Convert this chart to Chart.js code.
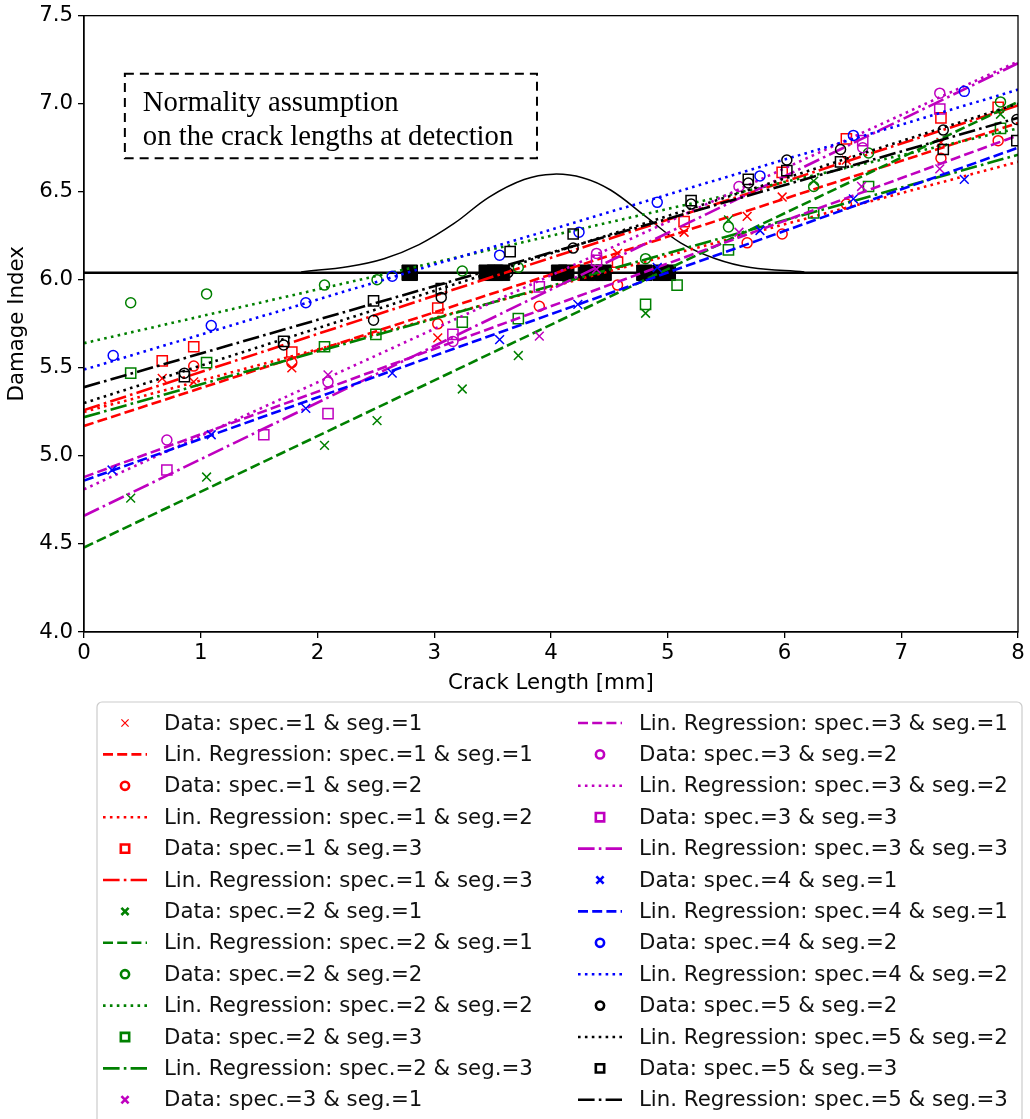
<!DOCTYPE html>
<html lang="en">
<head>
<meta charset="UTF-8">
<title>Damage Index vs Crack Length</title>
<script src="https://cdn.jsdelivr.net/npm/chart.js"></script>
<style>
  body { margin: 0; background: #fff; }
  canvas { display: block; }
</style>
</head>
<body>
<canvas id="chart" width="1030" height="1119"></canvas>
<script>
// crack length [mm] / damage index per specimen & segment
const s1g1X = [0.67, 0.94, 1.78, 3.03, 4.57, 5.14, 5.68, 5.98, 6.53, 7.34];
const s1g1Y = [5.44, 5.42, 5.50, 5.67, 6.15, 6.27, 6.36, 6.47, 6.68, 6.78];
const s1g2X = [0.94, 1.78, 3.03, 3.90, 4.57, 5.68, 5.98, 6.53, 7.34, 7.83];
const s1g2Y = [5.51, 5.53, 5.75, 5.85, 5.97, 6.21, 6.26, 6.43, 6.69, 6.79];
const s1g3X = [0.67, 0.94, 1.78, 3.03, 4.57, 5.14, 5.98, 6.53, 7.34, 7.83];
const s1g3Y = [5.54, 5.62, 5.59, 5.84, 6.10, 6.33, 6.61, 6.80, 6.92, 6.98];

const s2g1X = [0.40, 1.05, 2.06, 2.51, 3.24, 3.72, 4.81, 5.52, 6.25, 7.85];
const s2g1Y = [4.76, 4.88, 5.06, 5.20, 5.38, 5.57, 5.81, 6.34, 6.56, 6.94];
const s2g2X = [0.40, 1.05, 2.06, 2.51, 3.24, 3.72, 4.81, 5.52, 6.25, 6.72, 7.85];
const s2g2Y = [5.87, 5.92, 5.97, 6.00, 6.05, 6.07, 6.12, 6.30, 6.53, 6.72, 7.01];
const s2g3X = [0.40, 1.05, 2.06, 2.50, 3.24, 3.72, 4.81, 5.08, 5.52, 6.25, 6.72, 7.85];
const s2g3Y = [5.47, 5.53, 5.62, 5.69, 5.76, 5.78, 5.86, 5.97, 6.17, 6.38, 6.53, 6.86];

const s3g1X = [2.09, 3.90, 4.39, 5.61, 6.66, 7.33];
const s3g1Y = [5.46, 5.68, 6.06, 6.27, 6.53, 6.63];
const s3g2X = [0.71, 2.09, 3.16, 4.39, 5.61, 6.67, 7.33];
const s3g2Y = [5.09, 5.42, 5.65, 6.15, 6.53, 6.75, 7.06];
const s3g3X = [0.71, 1.54, 2.09, 3.16, 3.90, 4.39, 6.67, 7.33];
const s3g3Y = [4.92, 5.12, 5.24, 5.69, 5.96, 6.11, 6.79, 6.97];

const s4g1X = [0.24, 1.09, 1.90, 2.64, 3.56, 4.23, 4.91, 5.79, 6.59, 7.54];
const s4g1Y = [4.92, 5.12, 5.27, 5.47, 5.66, 5.86, 6.07, 6.28, 6.46, 6.57];
const s4g2X = [0.25, 1.09, 1.90, 2.64, 3.56, 4.24, 4.91, 5.79, 6.59, 7.54];
const s4g2Y = [5.57, 5.74, 5.87, 6.02, 6.14, 6.27, 6.44, 6.59, 6.82, 7.07];

const s5g2X = [0.86, 1.71, 2.48, 3.06, 3.63, 4.19, 5.20, 5.69, 6.02, 6.48, 7.36, 7.99];
const s5g2Y = [5.47, 5.63, 5.77, 5.90, 6.04, 6.18, 6.43, 6.55, 6.68, 6.74, 6.85, 6.91];
const s5g3X = [0.86, 1.71, 2.48, 3.06, 3.65, 4.19, 5.20, 5.69, 6.02, 6.48, 7.36, 7.99];
const s5g3Y = [5.45, 5.65, 5.88, 5.95, 6.16, 6.26, 6.45, 6.57, 6.62, 6.67, 6.74, 6.79];

// regression lines, values at crack length 0 and 8
const regX = [0, 8];
const s1g1Fit = [5.17, 6.89];
const s1g2Fit = [5.25, 6.67];
const s1g3Fit = [5.26, 6.99];
const s2g1Fit = [4.48, 7.01];
const s2g2Fit = [5.64, 6.86];
const s2g3Fit = [5.22, 6.71];
const s3g1Fit = [4.88, 6.82];
const s3g2Fit = [4.81, 7.24];
const s3g3Fit = [4.66, 7.23];
const s4g1Fit = [4.86, 6.75];
const s4g2Fit = [5.49, 7.08];
const s5g2Fit = [5.30, 7.00];
const s5g3Fit = [5.39, 6.92];

// detection threshold and crack lengths at detection
const detectLevel = 6.04;
const detectX = [2.79, 3.45, 3.52, 3.58, 4.07, 4.13, 4.30, 4.38, 4.45, 4.80, 4.94, 5.00];

// normal density sketch on top of the threshold line
const pdfX = [1.86, 2.27, 2.57, 2.87, 3.17, 3.47, 3.77, 4.02, 4.27, 4.51, 4.81, 5.11, 5.41, 5.71, 6.17];
const pdfY = [6.045, 6.076, 6.12, 6.20, 6.32, 6.47, 6.57, 6.60, 6.58, 6.51, 6.36, 6.21, 6.12, 6.07, 6.045];

const RED = '#ff0000', GREEN = '#008000', MAGENTA = '#bf00bf', BLUE = '#0000ff', BLACK = '#000000';
const LW = 2.6;
const DASHED = [10, 4.2];
const DOTTED = [2.6, 4.3];
const DASHDOT = [16.6, 4.2, 2.6, 4.2];
const FONT_SIZE = 21.3;

function points(xs, ys) {
  return xs.map((x, i) => ({ x: x, y: ys[i] }));
}

function markerRadius(style) {
  if (style === 'rect') return 7.2;
  if (style === 'crossRot') return 6.2;
  return 5;
}

function dataSet(spec, seg, color, style, xs, ys) {
  return {
    label: 'Data: spec.=' + spec + ' & seg.=' + seg,
    data: points(xs, ys),
    showLine: false,
    pointStyle: style,
    pointRadius: markerRadius(style),
    pointHoverRadius: markerRadius(style),
    pointBorderWidth: 1.5,
    borderColor: color,
    pointBorderColor: color,
    pointBackgroundColor: 'rgba(0,0,0,0)',
    backgroundColor: 'rgba(0,0,0,0)',
    isMarker: true
  };
}

function fitSet(spec, seg, color, dash, ends) {
  return {
    label: 'Lin. Regression: spec.=' + spec + ' & seg.=' + seg,
    data: points(regX, ends),
    showLine: true,
    borderColor: color,
    borderWidth: LW,
    borderDash: dash,
    pointRadius: 0,
    pointHoverRadius: 0,
    fill: false,
    isMarker: false
  };
}

const series = [
  dataSet(1, 1, RED, 'crossRot', s1g1X, s1g1Y),
  fitSet(1, 1, RED, DASHED, s1g1Fit),
  dataSet(1, 2, RED, 'circle', s1g2X, s1g2Y),
  fitSet(1, 2, RED, DOTTED, s1g2Fit),
  dataSet(1, 3, RED, 'rect', s1g3X, s1g3Y),
  fitSet(1, 3, RED, DASHDOT, s1g3Fit),
  dataSet(2, 1, GREEN, 'crossRot', s2g1X, s2g1Y),
  fitSet(2, 1, GREEN, DASHED, s2g1Fit),
  dataSet(2, 2, GREEN, 'circle', s2g2X, s2g2Y),
  fitSet(2, 2, GREEN, DOTTED, s2g2Fit),
  dataSet(2, 3, GREEN, 'rect', s2g3X, s2g3Y),
  fitSet(2, 3, GREEN, DASHDOT, s2g3Fit),
  dataSet(3, 1, MAGENTA, 'crossRot', s3g1X, s3g1Y),
  fitSet(3, 1, MAGENTA, DASHED, s3g1Fit),
  dataSet(3, 2, MAGENTA, 'circle', s3g2X, s3g2Y),
  fitSet(3, 2, MAGENTA, DOTTED, s3g2Fit),
  dataSet(3, 3, MAGENTA, 'rect', s3g3X, s3g3Y),
  fitSet(3, 3, MAGENTA, DASHDOT, s3g3Fit),
  dataSet(4, 1, BLUE, 'crossRot', s4g1X, s4g1Y),
  fitSet(4, 1, BLUE, DASHED, s4g1Fit),
  dataSet(4, 2, BLUE, 'circle', s4g2X, s4g2Y),
  fitSet(4, 2, BLUE, DOTTED, s4g2Fit),
  dataSet(5, 2, BLACK, 'circle', s5g2X, s5g2Y),
  fitSet(5, 2, BLACK, DOTTED, s5g2Fit),
  dataSet(5, 3, BLACK, 'rect', s5g3X, s5g3Y),
  fitSet(5, 3, BLACK, DASHDOT, s5g3Fit)
];

const helpers = [
  {
    label: 'threshold',
    data: points(regX, regX.map(() => detectLevel)),
    showLine: true, borderColor: BLACK, borderWidth: 2.5,
    pointRadius: 0, pointHoverRadius: 0
  },
  {
    label: 'pdf',
    data: points(pdfX, pdfY),
    showLine: true, borderColor: BLACK, borderWidth: 1.5,
    tension: 0.4,
    pointRadius: 0, pointHoverRadius: 0
  },
  {
    label: 'detections',
    data: points(detectX, detectX.map(() => detectLevel)),
    showLine: false, pointStyle: 'rect',
    pointRadius: 11, pointHoverRadius: 11,
    pointBackgroundColor: BLACK, pointBorderColor: BLACK, pointBorderWidth: 1
  }
];

const datasets = helpers.concat(series).map((d, i) => Object.assign(d, { order: -i }));

const tickFont = { family: 'DejaVu Sans', size: FONT_SIZE, lineHeight: 1 };
const titleFont = { family: 'DejaVu Sans', size: FONT_SIZE };

// text box in data coordinates
const noteBox = { x0: 0.35, x1: 3.88, y0: 6.69, y1: 7.17 };
const noteLines = ['Normality assumption', 'on the crack lengths at detection'];

const framePlugin = {
  id: 'frame',
  afterDatasetsDraw(chart) {
    const { ctx, chartArea: a, scales: { x, y } } = chart;
    ctx.save();
    ctx.strokeStyle = BLACK;
    ctx.lineWidth = 1.3;
    ctx.setLineDash([]);
    ctx.strokeRect(a.left, a.top, a.right - a.left, a.bottom - a.top);

    const bx0 = x.getPixelForValue(noteBox.x0), bx1 = x.getPixelForValue(noteBox.x1);
    const by0 = y.getPixelForValue(noteBox.y1), by1 = y.getPixelForValue(noteBox.y0);
    ctx.fillStyle = '#fff';
    ctx.fillRect(bx0, by0, bx1 - bx0, by1 - by0);
    ctx.lineWidth = 2;
    ctx.setLineDash([9, 6]);
    ctx.strokeRect(bx0, by0, bx1 - bx0, by1 - by0);
    ctx.setLineDash([]);
    ctx.fillStyle = BLACK;
    ctx.font = '28.7px "Liberation Serif"';
    ctx.textBaseline = 'alphabetic';
    ctx.textAlign = 'left';
    noteLines.forEach((t, i) => ctx.fillText(t, bx0 + 18, by0 + 37 + i * 34));
    ctx.restore();
  }
};

// two-column legend under the axes
const legendPlugin = {
  id: 'columnLegend',
  afterDraw(chart) {
    const ctx = chart.ctx;
    const perCol = Math.ceil(series.length / 2);
    const left = 97, right = 1022, top = 702;
    ctx.save();
    ctx.strokeStyle = '#cccccc';
    ctx.lineWidth = 1.2;
    ctx.beginPath();
    ctx.roundRect(left, top, right - left, 440, 5);
    ctx.fillStyle = 'rgba(255,255,255,0.8)';
    ctx.fill();
    ctx.stroke();

    ctx.font = FONT_SIZE + 'px "DejaVu Sans"';
    ctx.textBaseline = 'middle';
    series.forEach((s, i) => {
      const col = Math.floor(i / perCol), row = i % perCol;
      const hx = col ? 578 : 103;
      const cy = 723 + row * 31.4;
      ctx.strokeStyle = s.borderColor;
      if (s.isMarker) {
        ctx.fillStyle = 'rgba(0,0,0,0)';
        Chart.helpers.drawPoint(ctx, {
          pointStyle: s.pointStyle,
          radius: s.pointRadius * 0.82,
          rotation: 0,
          borderWidth: 1.5
        }, hx + 22, cy);
      } else {
        ctx.lineWidth = LW;
        ctx.setLineDash(s.borderDash);
        ctx.beginPath();
        ctx.moveTo(hx, cy);
        ctx.lineTo(hx + 44, cy);
        ctx.stroke();
        ctx.setLineDash([]);
      }
      ctx.fillStyle = '#111';
      ctx.fillText(s.label, hx + 61, cy + 1);
    });
    ctx.restore();
  }
};

new Chart(document.getElementById('chart'), {
  type: 'scatter',
  data: { datasets: datasets },
  options: {
    responsive: false,
    animation: false,
    layout: { padding: { left: 0, right: 8, top: 15, bottom: 417 } },
    plugins: { legend: { display: false }, tooltip: { enabled: false } },
    scales: {
      x: {
        type: 'linear', min: 0, max: 8,
        ticks: { stepSize: 1, font: tickFont, color: BLACK, padding: 5 },
        grid: { display: true, drawOnChartArea: false, tickLength: 6, color: BLACK, lineWidth: 1.3 },
        border: { color: BLACK, width: 1.3 },
        title: { display: true, text: 'Crack Length [mm]', font: titleFont, color: BLACK, padding: { top: 0, bottom: 6 } },
        afterFit: s => { s.height = 70; }
      },
      y: {
        type: 'linear', min: 4, max: 7.5,
        ticks: { stepSize: 0.5, font: tickFont, color: BLACK, padding: 5, callback: v => v.toFixed(1) },
        grid: { display: true, drawOnChartArea: false, tickLength: 6, color: BLACK, lineWidth: 1.3 },
        border: { color: BLACK, width: 1.3 },
        title: { display: true, text: 'Damage Index', font: titleFont, color: BLACK, padding: { top: 5, bottom: 0 } },
        afterFit: s => { s.width = 84; }
      }
    }
  },
  plugins: [framePlugin, legendPlugin]
});
</script>
</body>
</html>
